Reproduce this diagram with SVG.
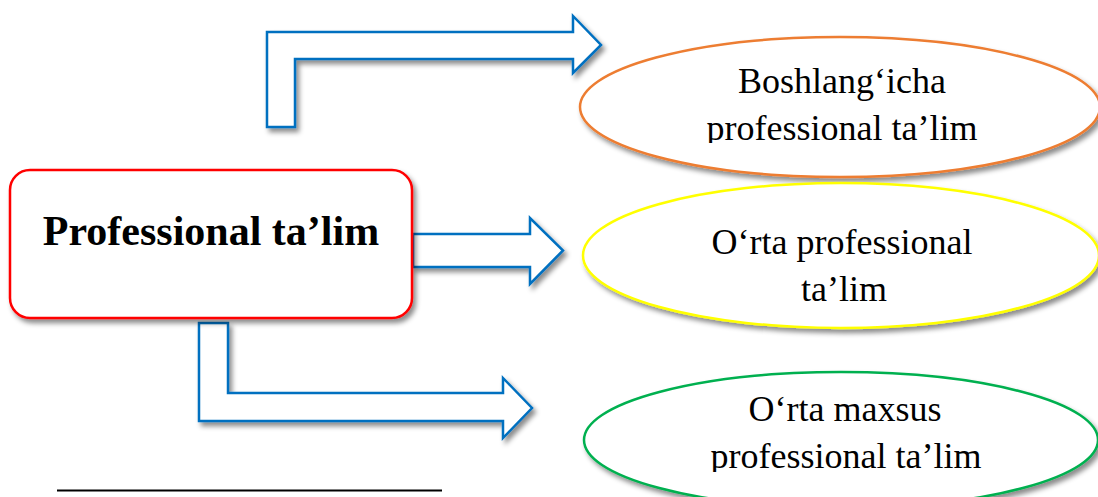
<svg xmlns="http://www.w3.org/2000/svg" width="1098" height="497" viewBox="0 0 1098 497">
  <style>
    .arrow { fill: #ffffff; stroke: #0070C0; stroke-width: 2.5; stroke-linejoin: miter; }
    .txt { font-family: "Liberation Serif", "Times New Roman", serif; fill: #000000; text-anchor: middle; }
    .etxt { font-size: 36px; }
    .title { font-size: 42px; font-weight: bold; }
    .ell { fill: #ffffff; stroke-width: 2.5; }
  </style>
  <defs>
    <filter id="shadow" x="-10%" y="-10%" width="125%" height="130%">
      <feDropShadow dx="3" dy="4" stdDeviation="2.5" flood-color="#000000" flood-opacity="0.45"/>
    </filter>
    <clipPath id="clip1"><rect x="560" y="0" width="538" height="143"/></clipPath>
    <clipPath id="clip3"><rect x="560" y="340" width="538" height="132"/></clipPath>
  </defs>
  <rect width="1098" height="497" fill="#ffffff"/>

  <g id="connectors">
    <path class="arrow" filter="url(#shadow)" d="M267,127 L267,32 L573,32 L573,16 L601,45 L573,73 L573,59 L295,59 L295,127 Z"/>
    <path class="arrow" filter="url(#shadow)" d="M413,234 L530,234 L530,218 L563,250.5 L530,284 L530,267 L413,267 Z"/>
    <path class="arrow" filter="url(#shadow)" d="M199,323 L228,323 L228,393 L503,393 L503,378 L532,408 L503,438 L503,421 L199,421 Z"/>
  </g>

  <g id="node-main">
    <rect x="10" y="170" width="402" height="148" rx="20" ry="20" fill="#ffffff" stroke="#FF0000" stroke-width="2.5" filter="url(#shadow)"/>
    <text class="txt title" x="211" y="245">Professional ta’lim</text>
  </g>

  <g id="node-boshlangich">
    <ellipse class="ell" cx="840" cy="107" rx="260" ry="70" stroke="#ED7D31" filter="url(#shadow)"/>
    <g clip-path="url(#clip1)">
      <text class="txt etxt" x="842" y="93">Boshlang‘icha</text>
      <text class="txt etxt" x="842" y="140">professional ta’lim</text>
    </g>
  </g>

  <g id="node-orta">
    <ellipse class="ell" cx="841" cy="255.5" rx="258" ry="72.5" stroke="#FFFF00" filter="url(#shadow)"/>
    <text class="txt etxt" x="842" y="254">O‘rta professional</text>
    <text class="txt etxt" x="844" y="301">ta’lim</text>
  </g>

  <g id="node-orta-maxsus">
    <ellipse class="ell" cx="841" cy="440" rx="257" ry="68" stroke="#00B050" filter="url(#shadow)"/>
    <g clip-path="url(#clip3)">
      <text class="txt etxt" x="845" y="421">O‘rta maxsus</text>
      <text class="txt etxt" x="846" y="468">professional ta’lim</text>
    </g>
  </g>

  <line x1="57" y1="490.5" x2="442" y2="490.5" stroke="#000000" stroke-width="2"/>
</svg>
